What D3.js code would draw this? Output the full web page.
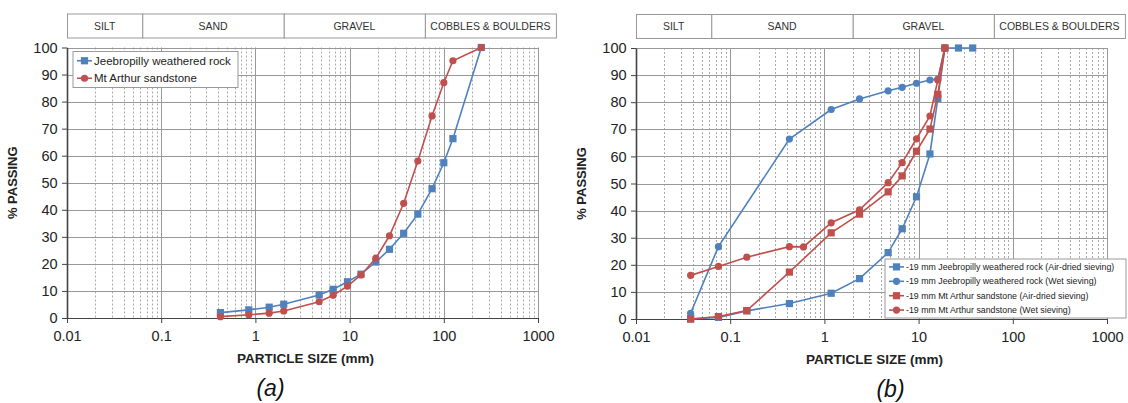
<!DOCTYPE html>
<meta charset="utf-8">
<style>
body { margin: 0; background: #fff; }
svg { font-family: "Liberation Sans", Arial, sans-serif; }
.minor { stroke: #aaa; stroke-dasharray: 2,2; stroke-width: 1; }
.major { stroke: #999; stroke-width: 1; }
.axis path, .axis line { stroke: #444; }
.axis text { font-size: 14.5px; fill: #222; }
</style>
<svg width="1128" height="403"></svg>
<script src="https://d3js.org/d3.v7.min.js"></script>
<script>

// soil classes (BS boundaries, mm)
var zoneEdges = [0.01, 0.063, 2, 63, 1550];
var zoneNames = ["SILT", "SAND", "GRAVEL", "COBBLES & BOULDERS"];
var yTicks = [0, 10, 20, 30, 40, 50, 60, 70, 80, 90, 100];
var xTicks = [0.01, 0.1, 1, 10, 100, 1000];

// (a)
var sizeA = [0.425, 0.85, 1.4, 2, 4.75, 6.7, 9.5, 13.2, 19, 26.5, 37.5, 53, 75, 100, 125, 250];
var jeebA = [2.0, 3.0, 4.0, 5.1, 8.5, 10.6, 13.4, 16.2, 20.7, 25.4, 31.3, 38.4, 47.8, 57.4, 66.3, 100];
var arthurA = [0.5, 1.2, 1.8, 2.6, 6.0, 8.4, 11.8, 15.9, 22.1, 30.4, 42.4, 58.0, 74.7, 87.0, 95.1, 100];

// (b)
var sizeJeebDry = [0.038, 0.075, 0.15, 0.425, 1.18, 2.36, 4.75, 6.7, 9.5, 13.2, 16, 19, 26.5, 37.5];
var jeebDry = [0, 0.6, 3.0, 5.7, 9.5, 14.9, 24.5, 33.3, 45.1, 60.9, 81.4, 100, 100, 100];
var sizeJeebWet = [0.038, 0.075, 0.425, 1.18, 2.36, 4.75, 6.7, 9.5, 13.2, 16, 19];
var jeebWet = [2.1, 26.7, 66.4, 77.3, 81.2, 84.2, 85.5, 87.0, 88.2, 88.5, 100];
var sizeArthurDry = [0.038, 0.075, 0.15, 0.425, 1.18, 2.36, 4.75, 6.7, 9.5, 13.2, 16, 19];
var arthurDry = [0, 0.9, 3.1, 17.3, 31.8, 38.7, 46.9, 52.8, 61.9, 70.1, 82.9, 100];
var sizeArthurWet = [0.038, 0.075, 0.15, 0.425, 0.6, 1.18, 2.36, 4.75, 6.7, 9.5, 13.2, 16, 19];
var arthurWet = [16.1, 19.4, 22.8, 26.7, 26.6, 35.5, 40.3, 50.3, 57.7, 66.5, 74.9, 88.2, 100];

var blue = "#4f81bd", red = "#c0504d";

var svg = d3.select("svg");

var panels = [
  { left: 67, right: 538, top: 47.5, bottom: 318, tag: "(a)",
    legend: { dx: 6, dy: 4, w: 165, h: 36, font: 11.5, row: 17.5 },
    series: [
      { name: "Jeebropilly weathered rock", x: sizeA, y: jeebA, color: blue, shape: "square" },
      { name: "Mt Arthur sandstone", x: sizeA, y: arthurA, color: red, shape: "circle" }
    ] },
  { left: 636, right: 1107, top: 48, bottom: 319, tag: "(b)",
    legend: { dx: 249, dy: 211, w: 241, h: 59, font: 8.8, row: 14.4 },
    series: [
      { name: "-19 mm Jeebropilly weathered rock (Air-dried sieving)", x: sizeJeebDry, y: jeebDry, color: blue, shape: "square" },
      { name: "-19 mm Jeebropilly weathered rock (Wet sieving)", x: sizeJeebWet, y: jeebWet, color: blue, shape: "circle" },
      { name: "-19 mm Mt Arthur sandstone (Air-dried sieving)", x: sizeArthurDry, y: arthurDry, color: red, shape: "square" },
      { name: "-19 mm Mt Arthur sandstone (Wet sieving)", x: sizeArthurWet, y: arthurWet, color: red, shape: "circle" }
    ] }
];

function drawMarker(sel, shape, color) {
  if (shape === "square") {
    sel.append("rect").attr("x", -3.6).attr("y", -3.6).attr("width", 7.2).attr("height", 7.2)
      .attr("fill", color);
  } else {
    sel.append("circle").attr("r", 3.6).attr("fill", color);
  }
}

panels.forEach(function(p) {
  var x = d3.scaleLog().domain([0.01, 1000]).range([p.left, p.right]);
  var y = d3.scaleLinear().domain([0, 100]).range([p.bottom, p.top]);
  var g = svg.append("g");

  // classification band
  var band = g.append("g");
  var bandTop = p.top - 33.5, bandH = 24;
  zoneNames.forEach(function(n, i) {
    band.append("rect")
      .attr("x", x(zoneEdges[i]) + 0.5)
      .attr("y", bandTop)
      .attr("width", x(zoneEdges[i + 1]) - x(zoneEdges[i]))
      .attr("height", bandH)
      .attr("fill", "#fff").attr("stroke", "#999");
    band.append("text")
      .attr("x", (x(zoneEdges[i]) + x(zoneEdges[i + 1])) / 2)
      .attr("y", bandTop + bandH / 2)
      .attr("dy", "0.35em")
      .attr("text-anchor", "middle")
      .attr("font-size", 10.5)
      .attr("fill", "#333")
      .text(n);
  });

  // grid
  var minors = [];
  for (var e = -2; e < 3; e++) {
    for (var m = 2; m < 10; m++) minors.push(m * Math.pow(10, e));
  }
  g.append("g").selectAll("line").data(minors).enter().append("line")
    .attr("class", "minor")
    .attr("x1", function(d) { return Math.round(x(d)) + 0.5; })
    .attr("x2", function(d) { return Math.round(x(d)) + 0.5; })
    .attr("y1", p.top).attr("y2", p.bottom);
  g.append("g").selectAll("line").data(xTicks).enter().append("line")
    .attr("class", "major")
    .attr("x1", function(d) { return Math.round(x(d)) + 0.5; })
    .attr("x2", function(d) { return Math.round(x(d)) + 0.5; })
    .attr("y1", p.top).attr("y2", p.bottom);
  g.append("g").selectAll("line").data(yTicks).enter().append("line")
    .attr("class", "major")
    .attr("x1", p.left).attr("x2", p.right)
    .attr("y1", function(d) { return Math.round(y(d)) + 0.5; })
    .attr("y2", function(d) { return Math.round(y(d)) + 0.5; });

  // axes
  g.append("g")
    .attr("class", "axis")
    .attr("transform", "translate(0," + p.bottom + ")")
    .call(d3.axisBottom(x).tickValues(xTicks).tickFormat(d3.format("~g")).tickSize(5).tickSizeOuter(0))
    .selectAll("text").attr("dy", "1.05em");
  g.append("g")
    .attr("class", "axis")
    .attr("transform", "translate(" + p.left + ",0)")
    .call(d3.axisLeft(y).tickValues(yTicks).tickSize(5).tickSizeOuter(0))
    .call(function(a) { a.select(".domain").attr("stroke-width", 1.6); })
    .selectAll("text").attr("dx", "-0.1em");

  // axis titles
  g.append("text")
    .attr("transform", "translate(" + (p.left - 50) + "," + ((p.top + p.bottom) / 2) + ") rotate(-90)")
    .attr("text-anchor", "middle")
    .attr("font-size", 13)
    .attr("font-weight", "bold")
    .attr("fill", "#222")
    .text("% PASSING");
  g.append("text")
    .attr("x", (p.left + p.right) / 2 + 3)
    .attr("y", p.bottom + 45)
    .attr("text-anchor", "middle")
    .attr("font-size", 13.5)
    .attr("font-weight", "bold")
    .attr("fill", "#222")
    .text("PARTICLE SIZE (mm)");
  g.append("text")
    .attr("x", (p.left + p.right) / 2 - 32 + (p.tag === "(b)" ? 51 : 0))
    .attr("y", p.bottom + 78)
    .attr("text-anchor", "middle")
    .attr("font-size", 23)
    .attr("font-style", "italic")
    .attr("fill", "#111")
    .text(p.tag);

  // series
  var line = d3.line()
    .x(function(d) { return x(d[0]); })
    .y(function(d) { return y(d[1]); });

  p.series.forEach(function(s) {
    var pts = s.x.map(function(v, i) { return [v, s.y[i]]; });
    g.append("path").datum(pts)
      .attr("d", line)
      .attr("fill", "none")
      .attr("stroke", s.color)
      .attr("stroke-width", 1.6);
    g.append("g").selectAll("g").data(pts).enter().append("g")
      .attr("transform", function(d) { return "translate(" + x(d[0]) + "," + y(d[1]) + ")"; })
      .each(function() { drawMarker(d3.select(this), s.shape, s.color); });
  });

  // legend
  var L = p.legend;
  var lg = g.append("g").attr("transform", "translate(" + (p.left + L.dx) + "," + (p.top + L.dy) + ")");
  lg.append("rect")
    .attr("width", L.w).attr("height", L.h)
    .attr("fill", "#fff").attr("stroke", "#999");
  p.series.forEach(function(s, i) {
    var row = lg.append("g").attr("transform", "translate(0," + (L.h / 2 + (i - (p.series.length - 1) / 2) * L.row) + ")");
    row.append("line").attr("x1", 4).attr("x2", 19).attr("stroke", s.color).attr("stroke-width", 1.6);
    drawMarker(row.append("g").attr("transform", "translate(11.5,0)"), s.shape, s.color);
    row.append("text")
      .attr("x", 21)
      .attr("dy", "0.35em")
      .attr("font-size", L.font)
      .attr("fill", "#222")
      .text(s.name);
  });
});

</script>
